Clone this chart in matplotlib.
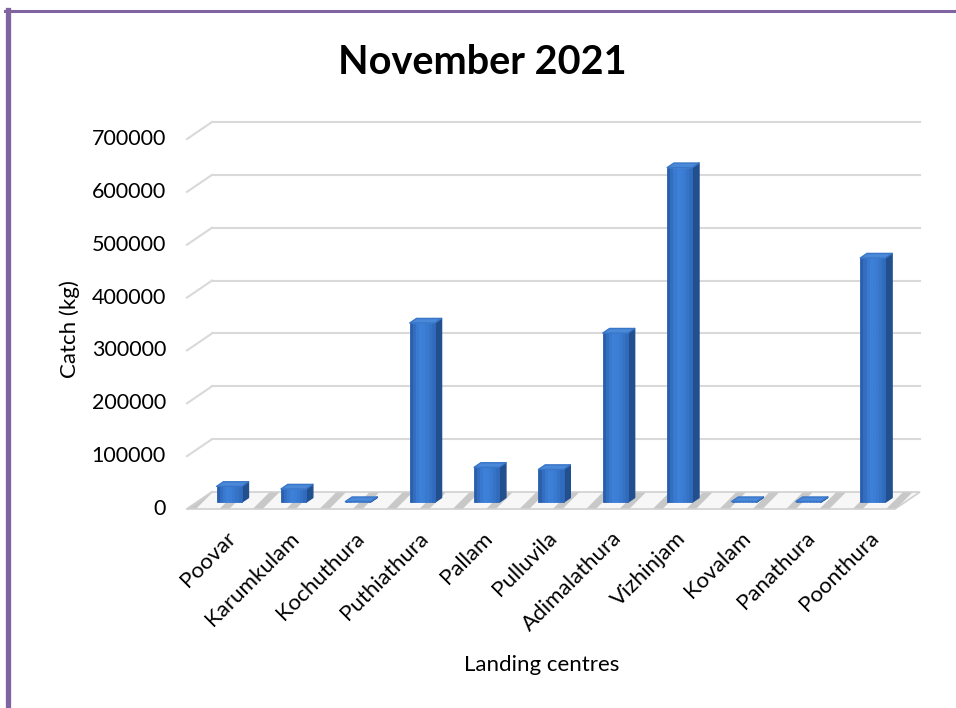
import matplotlib.pyplot as plt
import numpy as np
from matplotlib.patches import Polygon
from matplotlib.lines import Line2D
from matplotlib.transforms import IdentityTransform
from matplotlib.colors import to_rgb

plt.rcParams['font.family'] = ['Lato', 'DejaVu Sans']
plt.rcParams['hatch.linewidth'] = 5.0
plt.rcParams['hatch.color'] = '#c8c8c8'

centres = ['Poovar', 'Karumkulam', 'Kochuthura', 'Puthiathura', 'Pallam', 'Pulluvila',
           'Adimalathura', 'Vizhinjam', 'Kovalam', 'Panathura', 'Poonthura']
catch_kg = [30000, 25000, 1200, 339000, 66000, 62000, 320000, 633000, 1200, 1200, 462000]
y_ticks = [0, 100000, 200000, 300000, 400000, 500000, 600000, 700000]

# oblique depth offset in pixels (back wall -> front edge)
DX, DY = 25, 17
BAR_W = 0.39
D_FRONT, D_BACK = 0.6, 0.33

fig = plt.figure(figsize=(9.56, 7.08), dpi=100)
W, H = 956, 708
ax = fig.add_axes([212 / W, 1 - 492 / H, (920 - 212) / W, (492 - 122) / H])
ax.set_xlim(0, len(centres))
ax.set_ylim(0, 700000)
ax.axis('off')
ident = IdentityTransform()


def proj(x, v, depth):
    px, py = ax.transData.transform((x, v))
    return px - DX * depth, py - DY * depth


def face(pts, **kw):
    p = Polygon(pts, closed=True, transform=ident, clip_on=False, **kw)
    ax.add_patch(p)
    return p


# floor
n = len(centres)
floor = [proj(0, 0, 0), proj(n, 0, 0), proj(n, 0, 1), proj(0, 0, 1)]
face(floor, facecolor='#f7f7f7', edgecolor='#c8c8c8', hatch='/', lw=0.0, zorder=1)
face(floor, facecolor='none', edgecolor='#d0d0d0', lw=1.2, zorder=1)

# gridlines on back wall and side wall, with value labels
for v in y_ticks:
    if v > 0:
        x0, y0 = proj(0, v, 0)
        x1, y1 = proj(n, v, 0)
        ax.add_line(Line2D([x0, x1], [y0, y1], transform=ident, color='#d9d9d9',
                           lw=1.5, clip_on=False, zorder=0.5))
    xa, ya = proj(0, v, 1)
    xb, yb = proj(0, v, 0)
    ax.add_line(Line2D([xa, xb], [ya, yb], transform=ident, color='#d9d9d9',
                       lw=1.5, clip_on=False, zorder=0.5))
    ax.text(xa - 21, ya, f'{v}', transform=ident, ha='right', va='center',
            fontsize=15.5, color='black')

# shading across the front face: darker edges, lighter middle
dark = np.array(to_rgb('#2a5fae'))
light = np.array(to_rgb('#3d80d8'))
n_strips = 8
shade = [0.0, 0.45, 0.8, 1.0, 0.95, 0.8, 0.6, 0.35]

# 3-D style columns
for i, val in enumerate(catch_kg):
    xl = i + 0.5 - BAR_W / 2
    xr = i + 0.5 + BAR_W / 2
    side = [proj(xr, 0, D_FRONT), proj(xr, 0, D_BACK),
            proj(xr, val, D_BACK), proj(xr, val, D_FRONT)]
    top = [proj(xl, val, D_FRONT), proj(xr, val, D_FRONT),
           proj(xr, val, D_BACK), proj(xl, val, D_BACK)]
    face(side, facecolor='#22508f', edgecolor='#22508f', lw=1, joinstyle='round', zorder=3)
    step = BAR_W / n_strips
    for k in range(n_strips):
        c = dark + (light - dark) * shade[k]
        a, b = xl + k * step, xl + (k + 1) * step
        face([proj(a, 0, D_FRONT), proj(b, 0, D_FRONT),
              proj(b, val, D_FRONT), proj(a, val, D_FRONT)],
             facecolor=c, edgecolor=c, lw=0.6, zorder=3)
    face(top, facecolor='#4a88d8', edgecolor='#3a76c8', lw=1, joinstyle='round', zorder=3)

# category labels
for i, name in enumerate(centres):
    x, y = proj(i + 0.5, 0, 1)
    ax.text(x + 13, y - 26, name, transform=ident, ha='right', va='center',
            rotation=45, rotation_mode='anchor', fontsize=16, color='black')

fig.text(482 / W, 1 - 62 / H, 'November 2021', ha='center', va='center',
         fontsize=28.5, fontweight='bold')
fig.text(70 / W, 1 - 329 / H, 'Catch (kg)', ha='center', va='center',
         rotation=90, fontsize=16)
fig.text(542 / W, 1 - 665 / H, 'Landing centres', ha='center', va='center',
         fontsize=16)

# chart frame
fig.add_artist(Line2D([7.5 / W, 7.5 / W], [0, 1 - 10 / H], color='#8064a2', lw=3.8))
fig.add_artist(Line2D([5 / W, 1], [1 - 11 / H, 1 - 11 / H], color='#8064a2', lw=2.2))

fig.savefig('out.png', dpi=100)
